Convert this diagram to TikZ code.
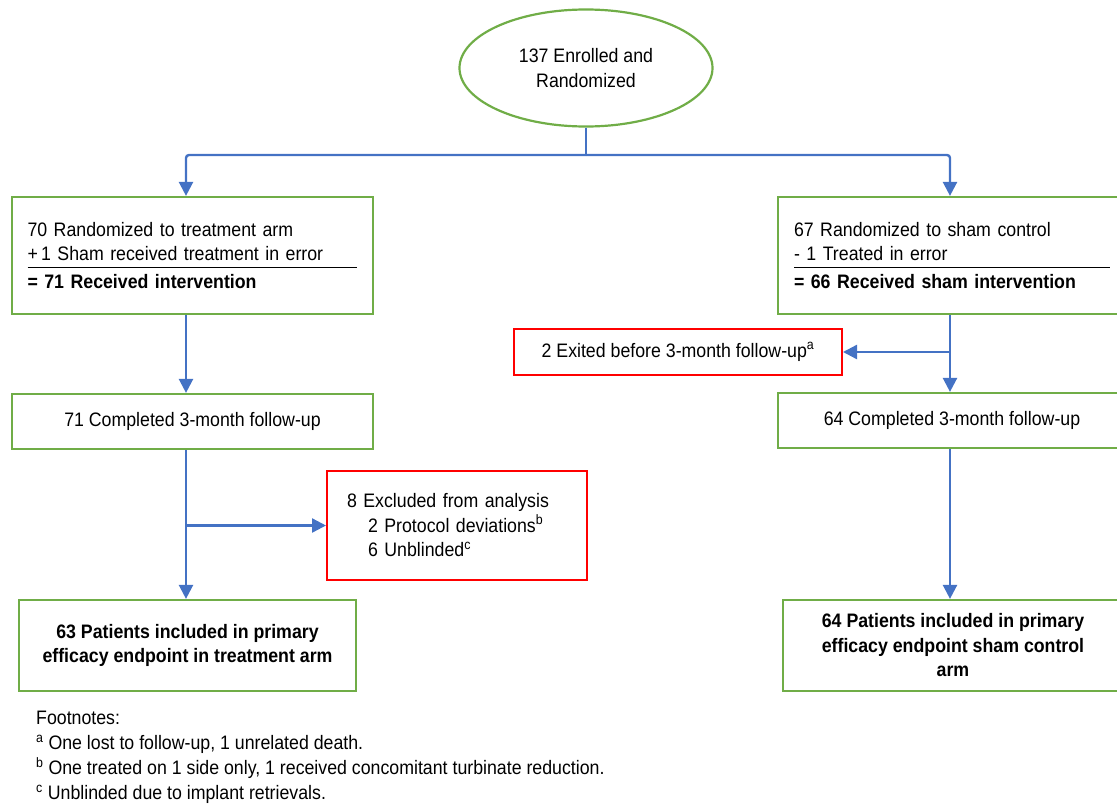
\documentclass[tikz,border=0pt]{standalone}
\usepackage{fontspec}
\setmainfont{Liberation Sans}[FakeStretch=0.91]
\usetikzlibrary{arrows.meta,shapes.geometric}
\definecolor{boxgreen}{HTML}{70AD47}
\definecolor{lineblue}{HTML}{4472C4}
\definecolor{exred}{HTML}{FF0000}

\begin{document}
\begin{tikzpicture}[x=1pt,y=-1pt]
	\tikzstyle{every node}=[font=\fontsize{19.5}{24.5}\selectfont, inner sep=0pt]
	\tikzstyle{gbox}=[rectangle, draw=boxgreen, line width=2.2pt]
	\tikzstyle{rbox}=[rectangle, draw=exred, line width=2pt]
	\tikzstyle{flow}=[draw=lineblue, line width=2.4pt]
	\tikzstyle{flowarr}=[flow, -{Triangle[width=14pt,length=14pt]}]
	\useasboundingbox (0,0) rectangle (1117,806);
	\clip (0,0) rectangle (1117,806);
	% enrolment
	\draw (586,68) node (enr) [ellipse, draw=boxgreen, line width=2.2pt, minimum width=253pt, minimum height=117pt, align=center] {137 Enrolled and\\Randomized};
	% arms
	\draw (192.5,255.5) node (treat) [gbox, minimum width=361pt, minimum height=117pt, text width=330pt, align=left] {70 Randomized to treatment arm\\\leavevmode\rlap{\rule[-7pt]{330pt}{1.2pt}}+\,1 Sham received treatment in error\\[3pt]\textbf{= 71 Received intervention}};
	\draw (952,255.5) node (sham) [gbox, minimum width=348pt, minimum height=117pt, text width=316pt, align=left] {67 Randomized to sham control\\\leavevmode\rlap{\rule[-7pt]{316pt}{1.2pt}}- 1 Treated in error\\[3pt]\textbf{= 66 Received sham intervention}};
	\draw (678,352) node (exit) [rbox, minimum width=328pt, minimum height=46pt] {2 Exited before 3-month follow-up\textsuperscript{a}};
	% follow-up
	\draw (192.5,421.5) node (comp1) [gbox, minimum width=361pt, minimum height=55pt] {71 Completed 3-month follow-up};
	\draw (952,420.5) node (comp2) [gbox, minimum width=348pt, minimum height=55pt] {64 Completed 3-month follow-up};
	\draw (457,525.5) node (excl) [rbox, minimum width=260pt, minimum height=109pt, text width=220pt, align=left] {8 Excluded from analysis\\\hspace*{21pt}2 Protocol deviations\textsuperscript{b}\\\hspace*{21pt}6 Unblinded\textsuperscript{c}};
	% analysed
	\draw (187.5,645.5) node (pat1) [gbox, minimum width=337pt, minimum height=91pt, align=center, font=\fontsize{19.5}{23.5}\selectfont\bfseries] {63 Patients included in primary\\efficacy endpoint in treatment arm};
	\draw (953,645.5) node (pat2) [gbox, minimum width=340pt, minimum height=91pt, align=center, font=\fontsize{19.5}{24.5}\selectfont\bfseries] {64 Patients included in primary\\efficacy endpoint sham control\\arm};
	\draw (36,711) node (notes) [anchor=north west, align=left, font=\fontsize{19.5}{25}\selectfont] {Footnotes:\\\textsuperscript{a} One lost to follow-up, 1 unrelated death.\\\textsuperscript{b} One treated on 1 side only, 1 received concomitant turbinate reduction.\\\textsuperscript{c} Unblinded due to implant retrievals.};
	% connectors
	\coordinate (split) at (586,155);
	\coordinate (jl) at (186,155);
	\coordinate (jr) at (950,155);
	\draw[flow] (enr.south) -- (split);
	\draw[flowarr, rounded corners=3pt] (split) -- (jl) -- (jl |- treat.north);
	\draw[flowarr, rounded corners=3pt] (split) -- (jr) -- (jr |- sham.north);
	\draw[flowarr] (jl |- treat.south) -- (jl |- comp1.north);
	\draw[flowarr] (jl |- comp1.south) -- (jl |- pat1.north);
	\draw[flowarr] (jl |- excl.west) -- (excl.west);
	\draw[flowarr] (jr |- sham.south) -- (jr |- comp2.north);
	\draw[flowarr] (jr |- exit.east) -- (exit.east);
	\draw[flowarr] (jr |- comp2.south) -- (jr |- pat2.north);
\end{tikzpicture}
\end{document}
